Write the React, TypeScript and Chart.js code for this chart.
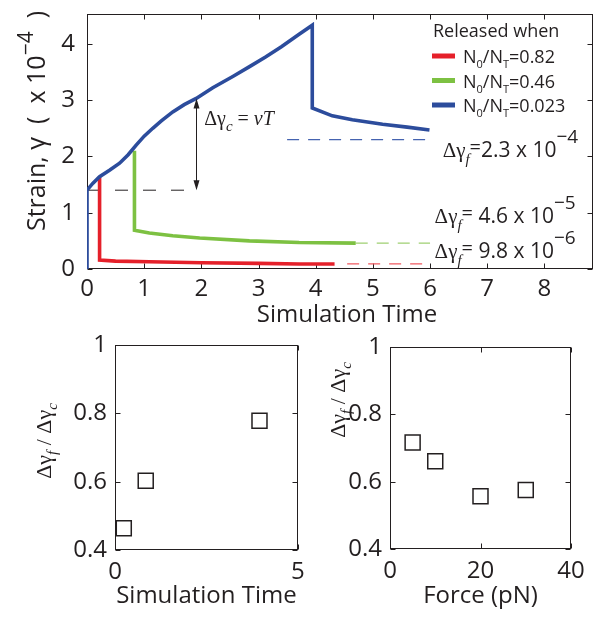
import React, { useEffect, useRef } from 'react';
import { Chart, registerables } from 'chart.js';

Chart.register(...registerables);

const SANS = '"Open Sans", "Liberation Sans", Arial, sans-serif';
const SERIF = '"Liberation Serif", "DejaVu Serif", "Times New Roman", serif';
const INK = '#231f20';

// ---------- Top panel: strain vs simulation time ----------
const strainTicksX = [0, 1, 2, 3, 4, 5, 6, 7, 8];
const strainTicksY = [0, 1, 2, 3, 4];

const blueTime = [0, 0, 0.1, 0.22, 0.4, 0.57, 0.72, 0.86, 1.0, 1.15, 1.3, 1.5, 1.7, 1.91, 2.2, 2.55, 2.85, 3.13, 3.4, 3.71, 3.94, 3.94, 4.29, 4.64, 5.17, 5.6, 5.99];
const blueStrain = [0, 1.4, 1.52, 1.64, 1.76, 1.88, 2.03, 2.2, 2.36, 2.5, 2.63, 2.79, 2.92, 3.03, 3.22, 3.42, 3.6, 3.77, 3.95, 4.17, 4.33, 2.86, 2.72, 2.65, 2.57, 2.52, 2.47];
const greenTime = [0.83, 0.83, 1.09, 1.5, 1.97, 2.84, 3.71, 4.7];
const greenStrain = [2.1, 0.69, 0.64, 0.59, 0.55, 0.5, 0.47, 0.46];
const redTime = [0.22, 0.22, 0.5, 1.09, 2.0, 3.0, 3.71, 4.33];
const redStrain = [1.64, 0.16, 0.14, 0.13, 0.11, 0.1, 0.09, 0.09];

const legendTitle = 'Released when';
const releaseRatios = ['0.82', '0.46', '0.023'];
const seriesColors = ['#e5202a', '#7dc142', '#2c4c9c'];
const dashColors = ['#ef5a60', '#9fd072', '#4563b0'];

const finalStrain = [0.09, 0.46, 2.3];
const finalStartTime = [4.55, 4.7, 3.5];
const finalEndTime = [6, 6, 6];
const finalMantissa = ['9.8', '4.6', '2.3'];
const finalExponent = ['\u22126', '\u22125', '\u22124'];

const critTime = 1.91;
const critBase = 1.4;
const critTop = 3.03;

// ---------- Bottom panels: ratio ----------
const ratioTicks = [0.4, 0.6, 0.8, 1];
const releaseTime = [0.24, 0.84, 3.95];
const ratioVsTime = [0.464, 0.603, 0.778];
const timeTicks = [0, 5];
const forcePN = [5, 10, 20, 30];
const ratioVsForce = [0.716, 0.661, 0.557, 0.575];
const forceTicks = [0, 20, 40];

type Run = { t: string; f: string; dy?: number; dx?: number };

function runsWidth(ctx: CanvasRenderingContext2D, runs: Run[]) {
  let w = 0;
  for (const r of runs) {
    ctx.font = r.f;
    w += (r.dx || 0) + ctx.measureText(r.t).width;
  }
  return w;
}

function drawRuns(ctx: CanvasRenderingContext2D, runs: Run[], x: number, y: number) {
  let cx = x;
  for (const r of runs) {
    ctx.font = r.f;
    cx += r.dx || 0;
    ctx.fillText(r.t, cx, y + (r.dy || 0));
    cx += ctx.measureText(r.t).width;
  }
  return cx;
}

function drawFrame(chart: any, xt: number[], yt: number[], len = 5) {
  const { ctx, chartArea: a, scales } = chart;
  const x = scales.x;
  const y = scales.y;
  ctx.save();
  ctx.strokeStyle = INK;
  ctx.lineWidth = 1;
  const L = Math.round(a.left) + 0.5;
  const R = Math.round(a.right) - 0.5;
  const T = Math.round(a.top) + 0.5;
  const B = Math.round(a.bottom) - 0.5;
  ctx.strokeRect(L, T, R - L, B - T);
  ctx.beginPath();
  for (const v of xt) {
    const px = Math.round(x.getPixelForValue(v)) + 0.5;
    ctx.moveTo(px, B);
    ctx.lineTo(px, B - len);
    ctx.moveTo(px, T);
    ctx.lineTo(px, T + len);
  }
  for (const v of yt) {
    const py = Math.round(y.getPixelForValue(v)) + 0.5;
    ctx.moveTo(L, py);
    ctx.lineTo(L + len, py);
    ctx.moveTo(R, py);
    ctx.lineTo(R - len, py);
  }
  ctx.stroke();
  ctx.restore();
}

const zeroPad = (s: any) => {
  s.paddingTop = 0;
  s.paddingBottom = 0;
  s.paddingLeft = 0;
  s.paddingRight = 0;
};

const tickFont = { family: SANS, size: 24 };
const noGrid = { display: false, drawTicks: false };

function StrainChart() {
  const ref = useRef<HTMLCanvasElement>(null);
  useEffect(() => {
    const line = (xs: number[], ys: number[], color: string, width: number, dash?: number[]) => ({
      data: xs.map((v, i) => ({ x: v, y: ys[i] })),
      borderColor: color,
      backgroundColor: color,
      borderWidth: width,
      borderDash: dash || [],
      showLine: true,
      pointRadius: 0,
      tension: 0,
      fill: false,
    });
    const datasets: any[] = [
      line(blueTime, blueStrain, seriesColors[2], 3.6),
      line(greenTime, greenStrain, seriesColors[1], 3.6),
      line(redTime, redStrain, seriesColors[0], 3.6),
    ];
    for (let i = 0; i < finalStrain.length; i++) {
      datasets.push(
        line([finalStartTime[i], finalEndTime[i]], [finalStrain[i], finalStrain[i]], dashColors[i], 1.2, [12, 9])
      );
    }
    datasets.push(line([0, critTime], [critBase, critBase], INK, 1, [13, 15]));

    const annot = {
      id: 'strainAnnot',
      beforeDatasetsDraw(chart: any) {
        drawFrame(chart, strainTicksX, strainTicksY, 5);
      },
      afterDraw(chart: any) {
        const { ctx, scales } = chart;
        const x = scales.x;
        const y = scales.y;
        ctx.save();
        ctx.fillStyle = INK;
        ctx.strokeStyle = INK;
        ctx.textAlign = 'left';
        ctx.textBaseline = 'alphabetic';

        // double arrow
        const xp = Math.round(x.getPixelForValue(critTime)) + 0.5;
        const y0 = y.getPixelForValue(critBase);
        const y1 = y.getPixelForValue(critTop);
        ctx.lineWidth = 1;
        ctx.beginPath();
        ctx.moveTo(xp, y0 - 2);
        ctx.lineTo(xp, y1 + 2);
        ctx.stroke();
        ctx.beginPath();
        ctx.moveTo(xp, y1);
        ctx.lineTo(xp - 3, y1 + 10);
        ctx.lineTo(xp + 3, y1 + 10);
        ctx.closePath();
        ctx.moveTo(xp, y0);
        ctx.lineTo(xp - 3, y0 - 10);
        ctx.lineTo(xp + 3, y0 - 10);
        ctx.closePath();
        ctx.fill();

        // Δγc = vT
        drawRuns(
          ctx,
          [
            { t: '\u0394\u03b3', f: `20px ${SERIF}` },
            { t: 'c', f: `italic 15px ${SERIF}`, dy: 6 },
            { t: ' = ', f: `20px ${SERIF}` },
            { t: 'vT', f: `italic 20px ${SERIF}` },
          ],
          x.getPixelForValue(2.05),
          y.getPixelForValue(2.56)
        );

        // final strain labels
        const labX = [6.08, 6.08, 6.22];
        const labY = [0.2, 0.82, 1.99];
        for (let i = 0; i < finalStrain.length; i++) {
          drawRuns(
            ctx,
            [
              { t: '\u0394\u03b3', f: `21px ${SERIF}` },
              { t: 'f', f: `italic 15px ${SERIF}`, dy: 7 },
              { t: '=', f: `20px ${SANS}`, dy: -3 },
              { t: (i < 2 ? ' ' : '') + finalMantissa[i] + ' x 10', f: `21px ${SANS}` },
              { t: finalExponent[i], f: `19px ${SANS}`, dy: -14 },
            ],
            x.getPixelForValue(labX[i]),
            y.getPixelForValue(labY[i])
          );
        }

        // legend
        const a = chart.chartArea;
        const lx = a.right - 160;
        ctx.font = `18px ${SANS}`;
        ctx.fillText(legendTitle, lx, a.top + 23);
        for (let i = 0; i < releaseRatios.length; i++) {
          const cy = a.top + 42 + i * 24.5;
          ctx.strokeStyle = seriesColors[i];
          ctx.lineWidth = 5;
          ctx.beginPath();
          ctx.moveTo(lx - 1, cy);
          ctx.lineTo(lx + 22, cy);
          ctx.stroke();
          drawRuns(
            ctx,
            [
              { t: 'N', f: `18px ${SANS}` },
              { t: '0', f: `11px ${SANS}`, dy: 5 },
              { t: '/N', f: `18px ${SANS}` },
              { t: 'T', f: `11px ${SANS}`, dy: 5 },
              { t: '=' + releaseRatios[i], f: `18px ${SANS}` },
            ],
            lx + 30,
            cy + 7
          );
        }

        // y title
        ctx.save();
        ctx.translate(45, 231);
        ctx.rotate(-Math.PI / 2);
        ctx.fillStyle = INK;
        drawRuns(
          ctx,
          [
            { t: 'Strain, \u03b3', f: `25px ${SANS}` },
            { t: '  (  x 10', f: `25px ${SANS}` },
            { t: '\u22124', f: `21px ${SANS}`, dy: -12 },
            { t: '  )', f: `25px ${SANS}` },
          ],
          0,
          0
        );
        ctx.restore();

        // x title
        ctx.font = `24px ${SANS}`;
        ctx.textAlign = 'center';
        ctx.fillText('Simulation Time', (a.left + a.right) / 2 + 7, a.bottom + 53);
        ctx.restore();
      },
    };

    const chart = new Chart(ref.current as HTMLCanvasElement, {
      type: 'scatter',
      data: { datasets },
      options: {
        animation: false,
        responsive: false,
        maintainAspectRatio: false,
        layout: { padding: { top: 14, right: 9, left: 0, bottom: 0 } },
        plugins: { legend: { display: false }, tooltip: { enabled: false } },
        scales: {
          x: {
            type: 'linear',
            min: 0,
            max: 8.85,
            afterFit: (s: any) => {
              s.height = 61;
              zeroPad(s);
            },
            afterBuildTicks: (s: any) => {
              s.ticks = strainTicksX.map((v) => ({ value: v }));
            },
            grid: noGrid,
            border: { display: false },
            ticks: { font: tickFont, color: INK, padding: 6, maxRotation: 0, autoSkip: false, callback: (v: any) => String(v) },
          },
          y: {
            type: 'linear',
            min: 0,
            max: 4.53,
            afterFit: (s: any) => {
              s.width = 87;
              zeroPad(s);
            },
            afterBuildTicks: (s: any) => {
              s.ticks = strainTicksY.map((v) => ({ value: v }));
            },
            grid: noGrid,
            border: { display: false },
            ticks: { font: tickFont, color: INK, padding: 12, autoSkip: false, callback: (v: any) => String(v) },
          },
        },
      },
      plugins: [annot],
    } as any);
    return () => chart.destroy();
  }, []);
  return <canvas ref={ref} width={602} height={330} style={{ position: 'absolute', left: 0, top: 0, display: 'block' }} />;
}

type RatioProps = {
  xs: number[];
  ys: number[];
  xTicks: number[];
  xMax: number;
  xTitle: string;
  left: number;
  width: number;
  padTop: number;
  padRight: number;
  axisW: number;
  axisH: number;
  titleX: number;
  titleY: number;
};

function RatioChart(p: RatioProps) {
  const ref = useRef<HTMLCanvasElement>(null);
  useEffect(() => {
    const annot = {
      id: 'ratioAnnot',
      beforeDatasetsDraw(chart: any) {
        drawFrame(chart, p.xTicks, ratioTicks, 5);
      },
      afterDraw(chart: any) {
        const { ctx } = chart;
        const runs: Run[] = [
          { t: '\u0394\u03b3', f: `22px ${SERIF}` },
          { t: 'f', f: `italic 15px ${SERIF}`, dy: 6 },
          { t: ' / ', f: `22px ${SERIF}` },
          { t: '\u0394\u03b3', f: `22px ${SERIF}` },
          { t: 'c', f: `italic 15px ${SERIF}`, dy: 6 },
        ];
        ctx.save();
        ctx.fillStyle = INK;
        ctx.textAlign = 'left';
        ctx.textBaseline = 'alphabetic';
        const w = runsWidth(ctx, runs);
        ctx.translate(p.titleX, p.titleY);
        ctx.rotate(-Math.PI / 2);
        drawRuns(ctx, runs, -w / 2, 0);
        ctx.restore();
      },
    };
    const chart = new Chart(ref.current as HTMLCanvasElement, {
      type: 'scatter',
      data: {
        datasets: [
          {
            data: p.xs.map((v, i) => ({ x: v, y: p.ys[i] })),
            pointStyle: 'rect',
            pointRadius: 10.6,
            borderColor: INK,
            backgroundColor: 'rgba(0,0,0,0)',
            borderWidth: 1.5,
          },
        ],
      },
      options: {
        animation: false,
        responsive: false,
        maintainAspectRatio: false,
        layout: { padding: { top: p.padTop, right: p.padRight, left: 0, bottom: 0 } },
        plugins: { legend: { display: false }, tooltip: { enabled: false } },
        scales: {
          x: {
            type: 'linear',
            min: 0,
            max: p.xMax,
            afterFit: (s: any) => {
              s.height = p.axisH;
              zeroPad(s);
            },
            afterBuildTicks: (s: any) => {
              s.ticks = p.xTicks.map((v) => ({ value: v }));
            },
            grid: noGrid,
            border: { display: false },
            ticks: { font: tickFont, color: INK, padding: 8, maxRotation: 0, autoSkip: false, callback: (v: any) => String(v) },
            title: { display: true, text: p.xTitle, font: tickFont, color: INK, padding: { top: 0, bottom: 10 } },
          },
          y: {
            type: 'linear',
            min: 0.4,
            max: 1,
            afterFit: (s: any) => {
              s.width = p.axisW;
              zeroPad(s);
            },
            afterBuildTicks: (s: any) => {
              s.ticks = ratioTicks.map((v) => ({ value: v }));
            },
            grid: noGrid,
            border: { display: false },
            ticks: { font: tickFont, color: INK, padding: 8, autoSkip: false, callback: (v: any) => String(v) },
          },
        },
      },
      plugins: [annot],
    } as any);
    return () => chart.destroy();
  }, []);
  return (
    <canvas
      ref={ref}
      width={p.width}
      height={291}
      style={{ position: 'absolute', left: p.left, top: 330, display: 'block' }}
    />
  );
}

export default function App() {
  return (
    <div style={{ position: 'fixed', left: 0, top: 0, width: 602, height: 621, background: '#fff', overflow: 'hidden' }}>
      <StrainChart />
      <RatioChart
        xs={releaseTime}
        ys={ratioVsTime}
        xTicks={timeTicks}
        xMax={5}
        xTitle="Simulation Time"
        left={0}
        width={310}
        padTop={15}
        padRight={12}
        axisW={115}
        axisH={71}
        titleX={51}
        titleY={111}
      />
      <RatioChart
        xs={forcePN}
        ys={ratioVsForce}
        xTicks={forceTicks}
        xMax={40}
        xTitle="Force (pN)"
        left={310}
        width={292}
        padTop={17}
        padRight={31}
        axisW={80}
        axisH={72}
        titleX={35}
        titleY={70}
      />
    </div>
  );
}
